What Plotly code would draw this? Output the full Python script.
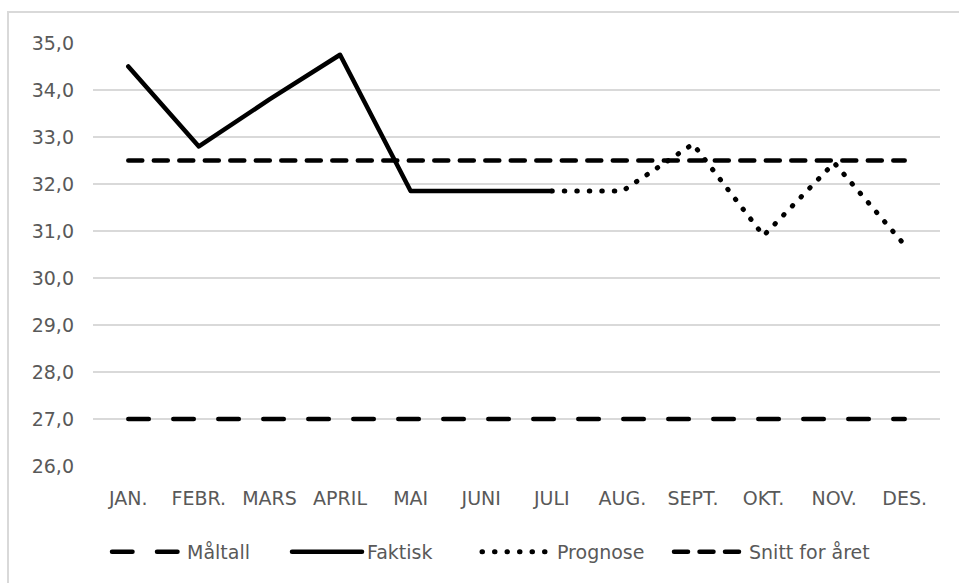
import plotly.graph_objects as go

months = ["JAN.", "FEBR.", "MARS", "APRIL", "MAI", "JUNI", "JULI", "AUG.", "SEPT.", "OKT.", "NOV.", "DES."]
maltall = [27.0] * 12
faktisk = [34.5, 32.8, 33.8, 34.75, 31.85, 31.85, 31.85, None, None, None, None, None]
prognose = [None, None, None, None, None, None, 31.85, 31.85, 32.85, 30.9, 32.45, 30.7]
snitt = [32.5] * 12
y_ticks = [26, 27, 28, 29, 30, 31, 32, 33, 34, 35]

FONT = "DejaVu Sans"
TXT = "#595959"
FS = 19

fig = go.Figure()
fig.add_trace(go.Scatter(x=months, y=maltall, name="Måltall", mode="lines", legend="legend",
                         line=dict(color="black", width=4.5, dash="20.5px,24.5px")))
fig.add_trace(go.Scatter(x=months, y=faktisk, name="Faktisk", mode="lines", legend="legend2",
                         line=dict(color="black", width=4.5)))
fig.add_trace(go.Scatter(x=months, y=prognose, name="Prognose", mode="lines", legend="legend3",
                         line=dict(color="black", width=5, dash="0.5px,12px")))
fig.add_trace(go.Scatter(x=months, y=snitt, name="Snitt for året", mode="lines", legend="legend4",
                         line=dict(color="black", width=4.5, dash="14px,11.5px")))


def leg(sym_start):
    return dict(orientation="h", xref="container", yref="container",
                x=(sym_start - 6) / 959, xanchor="left",
                y=(583 - 552) / 583, yanchor="middle",
                itemwidth=70, font=dict(family=FONT, size=FS, color=TXT),
                bgcolor="rgba(0,0,0,0)")


fig.update_layout(
    width=959, height=583,
    margin=dict(l=93, r=19, t=43, b=117),
    paper_bgcolor="white", plot_bgcolor="white",
    separators=", ",
    font=dict(family=FONT, size=FS, color=TXT),
    showlegend=True,
    legend=leg(113), legend2=leg(293), legend3=leg(483), legend4=leg(675),
    xaxis=dict(type="category", range=[-0.5, 11.5], showgrid=False, showline=False,
               ticks="outside", ticklen=15, tickcolor="rgba(0,0,0,0)",
               tickfont=dict(family=FONT, size=FS, color=TXT)),
    yaxis=dict(range=[26, 35], tickvals=y_ticks, tickformat=".1f", showgrid=True,
               gridcolor="#d9d9d9", gridwidth=2, zeroline=False, showline=False,
               ticks="", ticklabelstandoff=18, tickfont=dict(family=FONT, size=FS, color=TXT)),
    shapes=[dict(type="rect", xref="paper", yref="paper",
                 x0=(8 - 93) / 847, x1=(965 - 93) / 847,
                 y0=(466 - 590) / 423, y1=(466 - 12) / 423,
                 line=dict(color="#d9d9d9", width=2), fillcolor="rgba(0,0,0,0)", layer="below")],
)

post = (
    "document.body.style.margin='0';document.body.style.overflow='hidden';"
    "var s=document.createElement('style');"
    "s.textContent='path.js-line{stroke-linecap:round;stroke-linejoin:round;}';"
    "document.head.appendChild(s);"
)
fig.write_html("out.html", config={"displayModeBar": False}, post_script=post)
